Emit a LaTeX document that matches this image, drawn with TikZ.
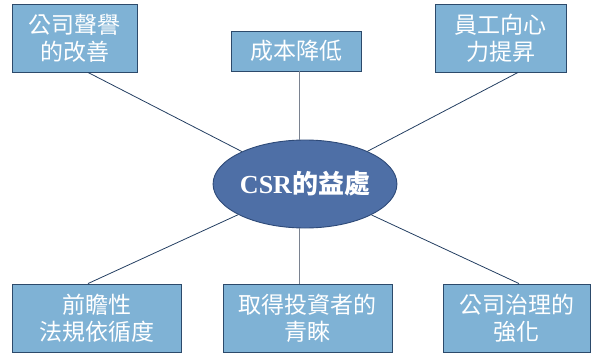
\documentclass[tikz,border=0pt]{standalone}
\usepackage{fontspec}
\setmainfont{Liberation Serif}
\newfontfamily\cjk{Noto Sans CJK TC}
\usetikzlibrary{calc,shapes.geometric}
\definecolor{boxfill}{HTML}{7FB2D5}
\definecolor{boxline}{HTML}{2C4A6B}
\definecolor{ellfill}{HTML}{4E6FA6}
\definecolor{ellline}{HTML}{2E4A78}
\definecolor{linkcol}{HTML}{243F62}
\definecolor{vlinkcol}{HTML}{7A8290}
\begin{document}
\begin{tikzpicture}[x=1pt,y=-1pt,
  benefit/.style={draw=boxline,line width=0.9pt,fill=boxfill,text=white,
    inner sep=0pt,align=center,font=\cjk\fontsize{23}{27}\selectfont},
  hub/.style={ellipse,draw=ellline,line width=0.9pt,fill=ellfill,text=white,
    minimum width=176pt,minimum height=88pt,inner sep=0pt},
  link/.style={draw=linkcol,line width=0.8pt},
  vlink/.style={draw=vlinkcol,line width=0.9pt}]
\useasboundingbox (0,0) rectangle (591,353);
\node[hub] (e) at (305,184) {\fontsize{26}{30}\selectfont\bfseries CSR{\cjk\bfseries 的益處}};
\node[benefit,minimum width=125pt,minimum height=68pt] (b1) at (74.5,38) {公司聲譽\\的改善};
\node[benefit,minimum width=130pt,minimum height=40pt] (b2) at (296,51) {成本降低};
\node[benefit,minimum width=131pt,minimum height=68pt] (b3) at (500.5,38) {員工向心\\力提昇};
\node[benefit,minimum width=169pt,minimum height=68pt] (b4) at (96.5,318) {前瞻性\\法規依循度};
\node[benefit,minimum width=169pt,minimum height=68pt] (b5) at (307.5,318) {取得投資者的\\青睞};
\node[benefit,minimum width=147pt,minimum height=68pt] (b6) at (516.5,318) {公司治理的\\強化};
\coordinate (v) at (299,0);
\coordinate (p1) at ([xshift=13.5pt]b1.south);
\coordinate (p3) at ([xshift=17.5pt]b3.south);
\coordinate (p4) at ([xshift=-8.5pt]b4.north);
\coordinate (p6) at ([xshift=2.5pt]b6.north);
\path[link] (p1) -- (e);
\path[link] (p3) -- (e);
\path[link] (p4) -- (e);
\path[link] (p6) -- (e);
\path[vlink] (b2.south -| v) -- (e.north -| v);
\path[vlink] (e.south -| v) -- (b5.north -| v);
\end{tikzpicture}
\end{document}
